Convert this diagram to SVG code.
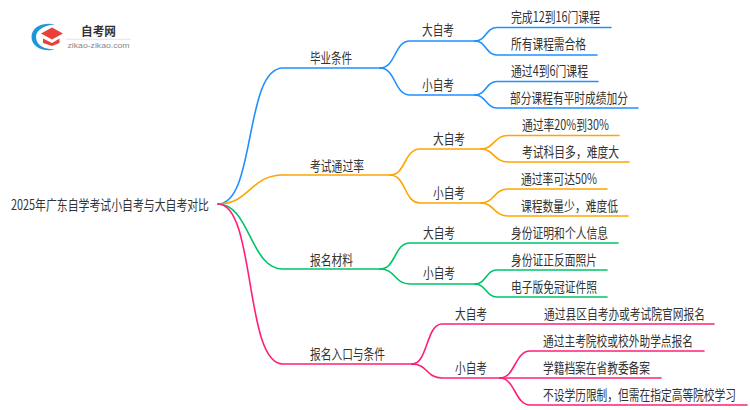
<svg xmlns="http://www.w3.org/2000/svg" width="750" height="410" viewBox="0 0 750 410">
<style>
text{font-family:"Noto Sans CJK SC","Noto Sans",sans-serif;font-size:14px;fill:#333}
.c{fill:none;stroke-width:1.6;stroke-linecap:round}
.b{stroke:#1e90ff}.o{stroke:#ffa500}.g{stroke:#00c46a}.p{stroke:#ff1f78}
</style>
<rect width="750" height="410" fill="#fff"/>
<g id="logo">
<path d="M55 24.500C45 22 31.500 26 31.500 37C31.500 48 45 52 55 49.500C46 49.500 36 46 36 37C36 29 46 25 55 24.500Z" fill="#1e96d8"/>
<path d="M41 33.500L52 27.500L63 33.500L52 39.500Z" fill="#e8403a"/>
<path d="M43 38.500L52 43L59.500 38.500L59.500 43L52 46L43 43Z" fill="#e8403a"/>
<text x="81" y="36" textLength="35" lengthAdjust="spacingAndGlyphs" style="font-size:12px;font-weight:700">自考网</text>
<rect x="66" y="38.800" width="65" height="0.800" fill="#ddd"/>
<text x="67.500" y="48" textLength="62" lengthAdjust="spacingAndGlyphs" style="font-size:8px;fill:#888;font-family:'Liberation Sans',sans-serif">zikao-zikao.com</text>
</g>
<g id="connectors">
<path class="c b" d="M218 204C256 204 244 68 283 68L380 68"/>
<path class="c b" d="M380 68C396 68 394 41 410 41L475 41"/>
<path class="c b" d="M380 68C396 68 394 95 410 95L475 95"/>
<path class="c b" d="M475 41C486 41 486 27.500 497 27.500L611 27.500"/>
<path class="c b" d="M475 41C486 41 486 55 497 55L597 55"/>
<path class="c b" d="M475 95C486 95 486 81.500 497 81.500L598 81.500"/>
<path class="c b" d="M475 95C486 95 486 108 497 108L638 108"/>
<path class="c o" d="M218 204C250 204 250 175 283 175L390 175"/>
<path class="c o" d="M390 175C406 175 404 149 420 149L481 149"/>
<path class="c o" d="M390 175C406 175 404 203 420 203L481 203"/>
<path class="c o" d="M481 149C494 149 494 135.500 508 135.500L619 135.500"/>
<path class="c o" d="M481 149C494 149 494 162 508 162L629 162"/>
<path class="c o" d="M481 203C494 203 494 189 508 189L607 189"/>
<path class="c o" d="M481 203C494 203 494 216 508 216L628 216"/>
<path class="c g" d="M218 204C250 204 250 269 283 269L380 269"/>
<path class="c g" d="M380 269C396 269 394 243 410 243L618 243"/>
<path class="c g" d="M380 269C396 269 394 284 410 284L475 284"/>
<path class="c g" d="M475 284C486 284 486 270 497 270L607 270"/>
<path class="c g" d="M475 284C486 284 486 297 497 297L607 297"/>
<path class="c p" d="M218 204C256 204 244 364 283 364L412 364"/>
<path class="c p" d="M412 364C428 364 426 324 442 324L714 324"/>
<path class="c p" d="M412 364C428 364 426 378 442 378L500 378"/>
<path class="c p" d="M500 378C515 378 515 351 530 351L704 351"/>
<path class="c p" d="M500 378L661 378"/>
<path class="c p" d="M500 378C515 378 515 405 530 405L747 405"/>
</g>
<g id="root"><text x="11" y="210" textLength="198" lengthAdjust="spacingAndGlyphs">2025年广东自学考试小自考与大自考对比</text></g>
<g id="n1"><text x="310" y="63" textLength="42" lengthAdjust="spacingAndGlyphs">毕业条件</text></g>
<g id="n1a"><text x="422" y="35" textLength="32" lengthAdjust="spacingAndGlyphs">大自考</text></g>
<g id="n1b"><text x="422" y="90" textLength="32" lengthAdjust="spacingAndGlyphs">小自考</text></g>
<g id="n1a1"><text x="511" y="22" textLength="89" lengthAdjust="spacingAndGlyphs">完成12到16门课程</text></g>
<g id="n1a2"><text x="511" y="49" textLength="75" lengthAdjust="spacingAndGlyphs">所有课程需合格</text></g>
<g id="n1b1"><text x="511" y="76" textLength="77" lengthAdjust="spacingAndGlyphs">通过4到6门课程</text></g>
<g id="n1b2"><text x="510" y="103" textLength="118" lengthAdjust="spacingAndGlyphs">部分课程有平时成绩加分</text></g>
<g id="n2"><text x="310" y="171" textLength="54" lengthAdjust="spacingAndGlyphs">考试通过率</text></g>
<g id="n2a"><text x="433" y="144" textLength="32" lengthAdjust="spacingAndGlyphs">大自考</text></g>
<g id="n2b"><text x="433" y="198" textLength="32" lengthAdjust="spacingAndGlyphs">小自考</text></g>
<g id="n2a1"><text x="522" y="130" textLength="87" lengthAdjust="spacingAndGlyphs">通过率20%到30%</text></g>
<g id="n2a2"><text x="522" y="157" textLength="97" lengthAdjust="spacingAndGlyphs">考试科目多，难度大</text></g>
<g id="n2b1"><text x="521" y="184" textLength="76" lengthAdjust="spacingAndGlyphs">通过率可达50%</text></g>
<g id="n2b2"><text x="521" y="211" textLength="97" lengthAdjust="spacingAndGlyphs">课程数量少，难度低</text></g>
<g id="n3"><text x="310" y="265" textLength="43" lengthAdjust="spacingAndGlyphs">报名材料</text></g>
<g id="n3a"><text x="423" y="238" textLength="32" lengthAdjust="spacingAndGlyphs">大自考</text></g>
<g id="n3b"><text x="423" y="278" textLength="32" lengthAdjust="spacingAndGlyphs">小自考</text></g>
<g id="n3a1"><text x="511" y="238" textLength="97" lengthAdjust="spacingAndGlyphs">身份证明和个人信息</text></g>
<g id="n3b1"><text x="511" y="265" textLength="86" lengthAdjust="spacingAndGlyphs">身份证正反面照片</text></g>
<g id="n3b2"><text x="511" y="292" textLength="86" lengthAdjust="spacingAndGlyphs">电子版免冠证件照</text></g>
<g id="n4"><text x="310" y="359" textLength="75" lengthAdjust="spacingAndGlyphs">报名入口与条件</text></g>
<g id="n4a"><text x="455" y="319" textLength="32" lengthAdjust="spacingAndGlyphs">大自考</text></g>
<g id="n4b"><text x="455" y="373" textLength="32" lengthAdjust="spacingAndGlyphs">小自考</text></g>
<g id="n4a1"><text transform="translate(544 319) scale(.767 1)">通过县区自考办或考试院官网报名</text></g>
<g id="n4b1"><text x="543" y="346" textLength="150" lengthAdjust="spacingAndGlyphs">通过主考院校或校外助学点报名</text></g>
<g id="n4b2"><text x="543" y="373" textLength="107" lengthAdjust="spacingAndGlyphs">学籍档案在省教委备案</text></g>
<g id="n4b3"><text transform="translate(543 400) scale(.766 1)">不设学历限制，但需在指定高等院校学习</text></g>
</svg>
